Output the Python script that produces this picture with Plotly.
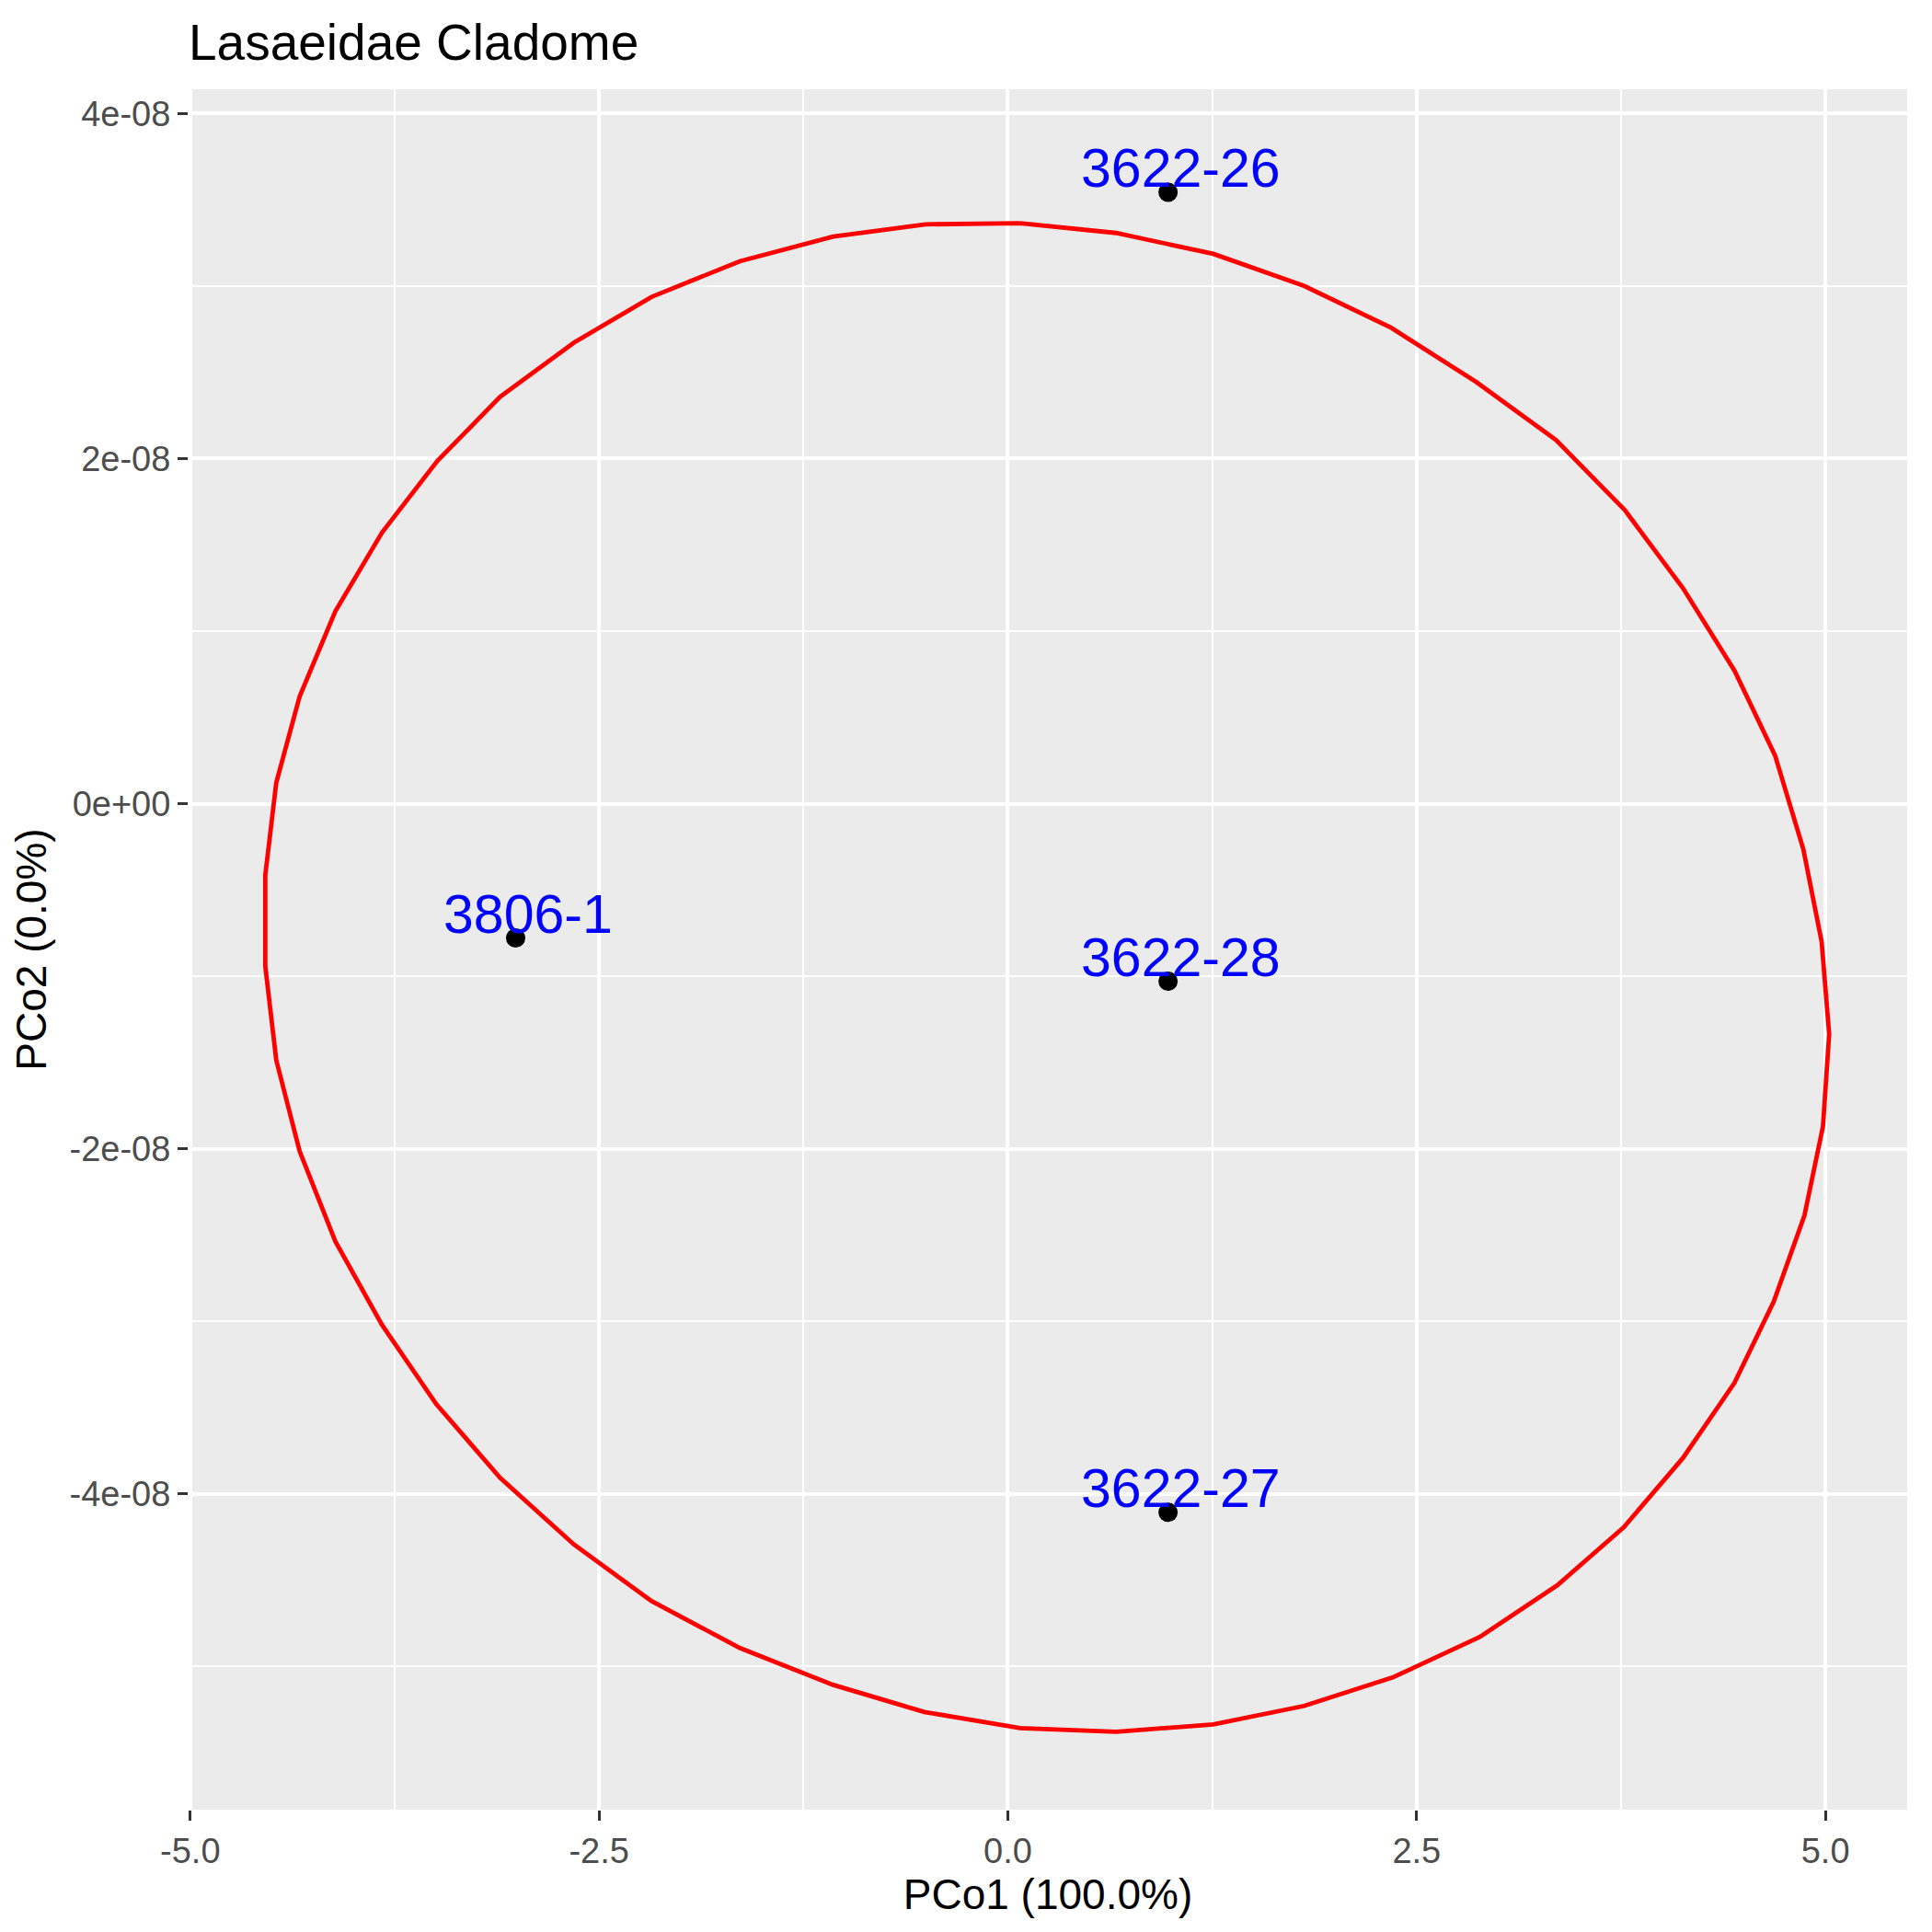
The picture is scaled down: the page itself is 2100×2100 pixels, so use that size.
import plotly.graph_objects as go

# sample scores (PCo1, PCo2)
samples = ["3622-26", "3806-1", "3622-28", "3622-27"]
pco1 = [0.98, -3.01, 0.98, 0.98]
pco2 = [3.543e-08, -7.79e-09, -1.029e-08, -4.107e-08]

# ellipse outline vertices
ell_x = [0.075, 0.662, 1.256, 1.812, 2.346, 2.865, 3.353, 3.774, 4.128, 4.444,
         4.692, 4.865, 4.977, 5.023, 4.985, 4.872, 4.684, 4.444, 4.128, 3.767,
         3.361, 2.887, 2.353, 1.812, 1.256, 0.662, 0.075, -0.511, -1.068, -1.639,
         -2.180, -2.654, -3.105, -3.496, -3.827, -4.113, -4.331, -4.474, -4.541, -4.541,
         -4.474, -4.331, -4.113, -3.827, -3.489, -3.105, -2.654, -2.180, -1.639, -1.068,
         -0.504, 0.075]
ell_y = [3.364e-08, 3.307e-08, 3.186e-08, 3.0e-08, 2.757e-08, 2.443e-08, 2.107e-08, 1.700e-08, 1.250e-08, 7.71e-09,
         2.79e-09, -2.64e-09, -8.0e-09, -1.336e-08, -1.871e-08, -2.386e-08, -2.886e-08, -3.357e-08, -3.793e-08, -4.193e-08,
         -4.529e-08, -4.829e-08, -5.064e-08, -5.229e-08, -5.336e-08, -5.379e-08, -5.357e-08, -5.264e-08, -5.107e-08, -4.893e-08,
         -4.621e-08, -4.293e-08, -3.907e-08, -3.479e-08, -3.021e-08, -2.536e-08, -2.014e-08, -1.486e-08, -9.43e-09, -4.14e-09,
         1.21e-09, 6.21e-09, 1.114e-08, 1.571e-08, 1.986e-08, 2.357e-08, 2.671e-08, 2.936e-08, 3.143e-08, 3.286e-08,
         3.357e-08, 3.364e-08]

# axis ticks
x_ticks = [-5.0, -2.5, 0.0, 2.5, 5.0]
x_ticktext = ["-5.0", "-2.5", "0.0", "2.5", "5.0"]
x_minor = [-3.75, -1.25, 1.25, 3.75]
y_ticks = [4e-08, 2e-08, 0, -2e-08, -4e-08]
y_ticktext = ["4e-08", "2e-08", "0e+00", "-2e-08", "-4e-08"]
y_minor = [3e-08, 1e-08, -1e-08, -3e-08, -5e-08]

FONT = "Liberation Sans, Arial, sans-serif"

fig = go.Figure()

fig.add_trace(go.Scatter(
    x=ell_x, y=ell_y,
    mode="lines",
    line=dict(color="#FF0000", width=4.8),
    hoverinfo="skip",
    showlegend=False
))

fig.add_trace(go.Scatter(
    x=pco1, y=pco2,
    mode="markers",
    marker=dict(color="black", size=21),
    text=samples,
    hovertemplate="%{text}<br>PCo1: %{x}<br>PCo2: %{y}<extra></extra>",
    showlegend=False
))

# blue sample labels, slightly above each point
for name, xv, yv in zip(samples, pco1, pco2):
    fig.add_annotation(
        x=xv, y=yv, text=name, showarrow=False,
        xshift=14, yshift=26,
        font=dict(family=FONT, size=59, color="#0000FF")
    )

fig.update_layout(
    width=2100, height=2100, autosize=False,
    paper_bgcolor="white",
    plot_bgcolor="#EBEBEB",
    margin=dict(l=197, r=35, t=89, b=141),
    font=dict(family=FONT, color="black"),
    title=dict(
        text="Lasaeidae Cladome",
        font=dict(family=FONT, size=55, color="black"),
        xref="container", x=197 / 2100, xanchor="left",
        yref="container", y=1 - 38 / 2100, yanchor="middle"
    )
)

fig.update_xaxes(
    range=[-5.01, 5.50],
    tickvals=x_ticks, ticktext=x_ticktext,
    showgrid=True, gridcolor="white", gridwidth=4,
    zeroline=False, showline=False,
    ticks="outside", ticklen=11, tickwidth=3, tickcolor="#333333",
    tickfont=dict(family=FONT, size=38, color="#4D4D4D"),
    minor=dict(tickvals=x_minor, showgrid=True, gridcolor="white", gridwidth=2, ticks=""),
    title=dict(text="PCo1 (100.0%)", font=dict(family=FONT, size=46, color="black"), standoff=4)
)

fig.update_yaxes(
    range=[-5.83e-08, 4.14e-08],
    tickvals=y_ticks, ticktext=y_ticktext,
    showgrid=True, gridcolor="white", gridwidth=4,
    zeroline=False, showline=False,
    ticks="outside", ticklen=11, tickwidth=3, tickcolor="#333333",
    ticklabelstandoff=0,
    tickfont=dict(family=FONT, size=38, color="#4D4D4D"),
    minor=dict(tickvals=y_minor, showgrid=True, gridcolor="white", gridwidth=2, ticks=""),
    title=dict(text="PCo2 (0.0%)", font=dict(family=FONT, size=46, color="black"), standoff=10)
)

fig.write_html("out.html")
